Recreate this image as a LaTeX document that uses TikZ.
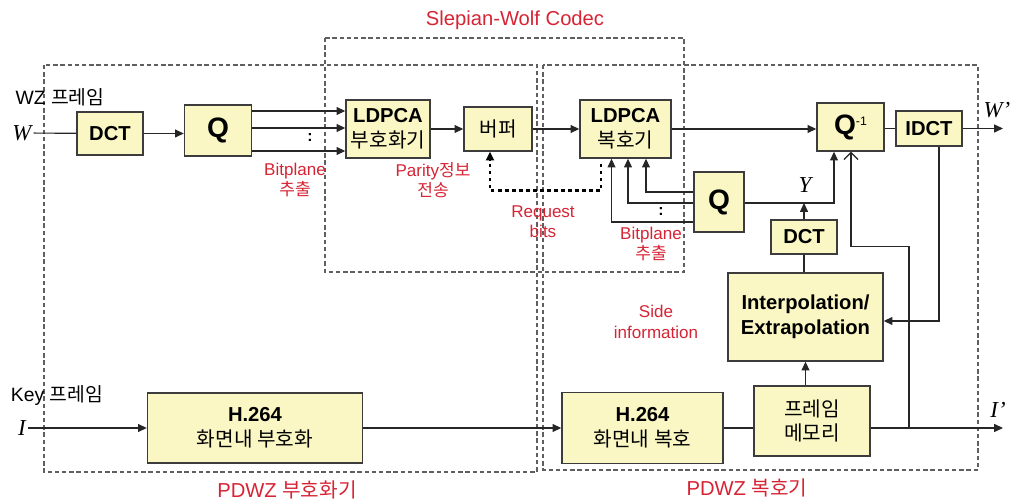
\documentclass[tikz,border=0pt]{standalone}
\usepackage{fontspec}
\setmainfont{Liberation Sans}
\newfontfamily\krfont{Noto Sans CJK KR}
\newfontfamily\tmsfont{Liberation Serif}
\usetikzlibrary{arrows.meta,positioning,calc}
\definecolor{blkfill}{RGB}{250,247,196}
\definecolor{blkline}{RGB}{60,60,60}
\definecolor{lblred}{RGB}{214,36,52}
\definecolor{dashgray}{RGB}{95,95,95}
\newcommand{\hg}[1]{{\krfont\mdseries #1}}
\newcommand{\vr}[1]{{\tmsfont\itshape #1}}

\begin{document}
\begin{tikzpicture}[x=0.02cm,y=-0.02cm,>={Triangle[length=5pt,width=4.5pt]},
    blk/.style={draw=blkline,fill=blkfill,line width=0.8pt,align=center,inner sep=1pt,font=\bfseries\fontsize{11.5}{14}\selectfont},
    bigq/.style={font=\bfseries\fontsize{16}{16}\selectfont},
    lbl/.style={text=lblred,align=center,font=\fontsize{9.7}{11.5}\selectfont},
    title/.style={text=lblred,font=\fontsize{11.5}{12}\selectfont},
    var/.style={font=\fontsize{13}{13}\selectfont,inner sep=1pt},
    region/.style={draw=dashgray,line width=0.6pt,dash pattern=on 2.5pt off 1.6pt},
    conn/.style={draw=black!85,line width=0.65pt}]
  \useasboundingbox (0,0) rectangle (1010,502);

  \draw[region] (44,65) rectangle (537,472);
  \draw[region] (543,65) rectangle (978,470);
  \draw[region] (325,38) rectangle (684,272);

  \node[blk,minimum width=1.32cm,minimum height=0.86cm] (dct) at (110,133.5) {DCT};
  \node[blk,bigq,minimum width=1.34cm,minimum height=1.02cm] (q) at (218,130.5) {Q};
  \node[blk,minimum width=1.68cm,minimum height=1.16cm] (enc) at (388,129) {LDPCA\\\hg{부호화기}};
  \node[blk,minimum width=1.36cm,minimum height=0.88cm] (buf) at (498,129) {\hg{버퍼}};
  \node[blk,minimum width=1.82cm,minimum height=1.16cm] (dec) at (625.5,129) {LDPCA\\\hg{복호기}};
  \node[blk,bigq,minimum width=1.34cm,minimum height=0.96cm] (qinv) at (850.5,127) {Q\raisebox{0.6ex}{\mdseries\fontsize{7}{7}\selectfont -1}};
  \node[blk,minimum width=1.32cm,minimum height=0.70cm] (idct) at (929,128.5) {IDCT};
  \node[blk,bigq,minimum width=1.00cm,minimum height=1.20cm] (qd) at (719,202) {Q};
  \node[blk,minimum width=1.32cm,minimum height=0.68cm] (dctd) at (804,237) {DCT};
  \node[blk,minimum width=3.10cm,minimum height=1.76cm] (interp) at (805.5,317) {Interpolation/\\Extrapolation};
  \node[blk,minimum width=4.30cm,minimum height=1.40cm] (h264e) at (255,428) {H.264\\\hg{화면내 부호화}};
  \node[blk,minimum width=3.22cm,minimum height=1.42cm] (h264d) at (642.5,428) {H.264\\\hg{화면내 복호}};
  \node[blk,minimum width=2.32cm,minimum height=1.40cm] (fmem) at (812,421) {\hg{프레임}\\\hg{메모리}};

  \node[font=\fontsize{11}{11}\selectfont] (wzlbl) at (60,97) {WZ \hg{프레임}};
  \node[font=\fontsize{11}{11}\selectfont] (keylbl) at (57,396) {Key \hg{프레임}};
  \node[var] (w) at (22,133) {\vr{W}};
  \node[var] (i) at (22,428) {\vr{I}};
  \node[var] (wp) at (997,110) {\vr{W’}};
  \node[var] (ip) at (998,410) {\vr{I’}};
  \node[var] (y) at (805,185) {\vr{Y}};

  \node[lbl] (bpe) at (295,180) {Bitplane\\\hg{추출}};
  \node[lbl] (par) at (433,180) {Parity\hg{정보}\\\hg{전송}};
  \node[lbl] (req) at (543,222) {Request\\bits};
  \node[lbl] (bpd) at (651,244) {Bitplane\\\hg{추출}};
  \node[lbl] (side) at (656,322) {Side\\information};
  \node[title] (swlbl) at (515,20) {Slepian-Wolf Codec};
  \node[title] (enclbl) at (287,490) {PDWZ \hg{부호화기}};
  \node[title] (declbl) at (747,488) {PDWZ \hg{복호기}};
  \node[font=\bfseries\fontsize{9}{9}\selectfont] (dots1) at (310,138) {:};
  \node[font=\bfseries\fontsize{9}{9}\selectfont] (dots2) at (661,212) {:};

  \coordinate (wout) at (1003,128.5);
  \coordinate (iout) at (1003,428);
  \coordinate (jn) at (909,428);
  \coordinate (ytap) at ($(qd.east)+(0,1)$);

  \draw[conn] (w) -- (dct);
  \draw[conn,->] (dct.east) -- (q.west |- dct.east);
  \draw[conn,->] ($(q.east |- enc.west)+(0,-18)$) -- ($(enc.west)+(0,-18)$);
  \draw[conn,->] ($(q.east |- enc.west)+(0,-1)$) -- ($(enc.west)+(0,-1)$);
  \draw[conn,->] ($(q.east |- enc.west)+(0,22)$) -- ($(enc.west)+(0,22)$);
  \draw[conn,->] (enc) -- (buf);
  \draw[conn,->] (buf) -- (dec);
  \draw[conn,->] (dec.east) -- (qinv.west |- dec.east);
  \draw[conn] (qinv.east |- idct.west) -- (idct.west);
  \draw[conn,->] (idct.east) -- (wout);
  \draw[line width=1.6pt,dash pattern=on 2pt off 2pt,->] ($(dec.south)+(-24.5,5)$) |- ($(buf.south)+(-8,39)$) -- ($(buf.south)+(-8,0)$);
  \draw[conn,->] ($(qd.west)+(0,-10)$) -| ($(dec.south)+(20.5,0)$);
  \draw[conn,->] ($(qd.west)+(0,1)$) -| ($(dec.south)+(2.5,0)$);
  \draw[conn,->] ($(qd.west)+(0,20)$) -| ($(dec.south)+(-14,0)$);
  \draw[conn,->] (ytap) -| ($(qinv.south)+(-16.5,0)$);
  \draw[conn,->] (dctd.north) -- (dctd.north |- ytap);
  \draw[conn] (dctd.south) -- (dctd.south |- interp.north);
  \draw[conn,->] ($(idct.south)+(10,0)$) |- ($(interp.east)+(0,4)$);
  \draw[conn,->] (i) -- (h264e);
  \draw[conn,->] (h264e) -- (h264d);
  \draw[conn] (h264d.east) -- (fmem.west |- h264d.east);
  \draw[conn,->] (interp.south |- fmem.north) -- (interp.south);
  \draw[conn,->] (fmem.east |- h264d.east) -- (iout);
  \draw[conn,-{Straight Barb[length=4pt,width=8pt]}] (jn) |- ($(qinv.south)+(0.5,95)$) -- ($(qinv.south)+(0.5,0)$);
\end{tikzpicture}
\end{document}
